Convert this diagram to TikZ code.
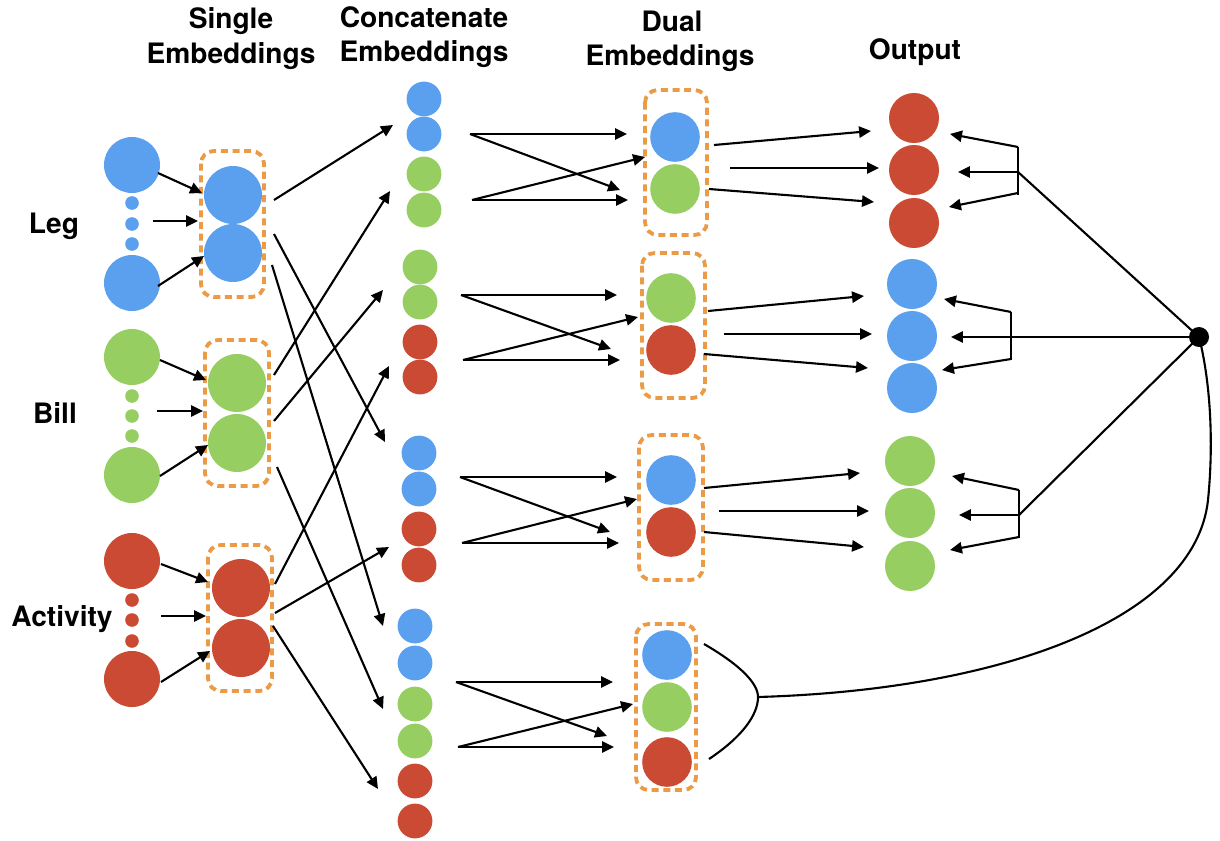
\documentclass[tikz,border=0pt]{standalone}
\usepackage{fontspec}
\setmainfont{TeX Gyre Heros}
\usetikzlibrary{arrows.meta,calc}
\definecolor{cblue}{HTML}{5AA0EE}
\definecolor{cgreen}{HTML}{96CE62}
\definecolor{cred}{HTML}{CB4A33}
\definecolor{corange}{HTML}{EB9A46}
\begin{document}
\begin{tikzpicture}[x=0.025cm,y=-0.025cm,
  ball/.style={circle,inner sep=0pt,draw=none},
  bigin/.style={ball,minimum size=1.4cm},
  dotin/.style={ball,minimum size=0.34cm},
  single/.style={ball,minimum size=1.45cm},
  cat/.style={ball,minimum size=0.87cm},
  dual/.style={ball,minimum size=1.24cm},
  outb/.style={ball,minimum size=1.25cm},
  B/.style={fill=cblue}, G/.style={fill=cgreen}, R/.style={fill=cred},
  grp/.style={draw=corange,line width=2.7pt,dash pattern=on 5pt off 3.3pt,rounded corners=9pt},
  arr/.style={line width=1.5pt,-{Triangle[length=8.5pt,width=8pt]}},
  ln/.style={line width=1.5pt},
  lbl/.style={font=\bfseries\fontsize{20}{24}\selectfont,anchor=base,inner sep=0pt}
]
\useasboundingbox (0,0) rectangle (1220,840);

% titles
\node[lbl] (t1a) at (231,29) {Single};
\node[lbl] (t1b) at (231,64) {Embeddings};
\node[lbl] (t2a) at (424,28) {Concatenate};
\node[lbl] (t2b) at (424,62) {Embeddings};
\node[lbl] (t3a) at (672,32) {Dual};
\node[lbl] (t3b) at (670,66) {Embeddings};
\node[lbl] (t4) at (915,60) {Output};
\node[lbl] (lleg) at (54,233) {Leg};
\node[lbl] (lbill) at (55,423) {Bill};
\node[lbl] (lact) at (62,626) {Activity};

% dashed groups
\draw[grp] (201,151) rectangle (264,297);
\draw[grp] (205,340) rectangle (269,486);
\draw[grp] (208,545) rectangle (272,691);
\draw[grp] (645,90) rectangle (707,235);
\draw[grp] (642,253) rectangle (705,398);
\draw[grp] (639,435) rectangle (703,580);
\draw[grp] (636,624) rectangle (696,790);

% input columns
\node[bigin,B] (legA) at (132,165) {};
\node[dotin,B] (legd1) at (132,203) {};
\node[dotin,B] (legd2) at (132,224) {};
\node[dotin,B] (legd3) at (132,244) {};
\node[bigin,B] (legB) at (132,283) {};
\node[bigin,G] (billA) at (132,357) {};
\node[dotin,G] (billd1) at (132,396) {};
\node[dotin,G] (billd2) at (132,416) {};
\node[dotin,G] (billd3) at (132,436) {};
\node[bigin,G] (billB) at (132,475) {};
\node[bigin,R] (actA) at (132,561) {};
\node[dotin,R] (actd1) at (132,600) {};
\node[dotin,R] (actd2) at (132,620) {};
\node[dotin,R] (actd3) at (132,641) {};
\node[bigin,R] (actB) at (132,679) {};

% single embeddings
\node[single,B] (sl1) at (233,195) {};
\node[single,B] (sl2) at (233,253) {};
\node[single,G] (sb1) at (237,383) {};
\node[single,G] (sb2) at (237,443) {};
\node[single,R] (sa1) at (241,588) {};
\node[single,R] (sa2) at (241,648) {};

% concatenate
\node[cat,B] (c11) at (424,99) {};
\node[cat,B] (c12) at (424,134) {};
\node[cat,G] (c13) at (424,174) {};
\node[cat,G] (c14) at (424,210) {};
\node[cat,G] (c21) at (420,267) {};
\node[cat,G] (c22) at (420,302) {};
\node[cat,R] (c23) at (420,342) {};
\node[cat,R] (c24) at (420,377) {};
\node[cat,B] (c31) at (419,453) {};
\node[cat,B] (c32) at (419,489) {};
\node[cat,R] (c33) at (419,529) {};
\node[cat,R] (c34) at (419,565) {};
\node[cat,B] (c41) at (415,626) {};
\node[cat,B] (c42) at (415,663) {};
\node[cat,G] (c43) at (415,704) {};
\node[cat,G] (c44) at (415,741) {};
\node[cat,R] (c45) at (415,781) {};
\node[cat,R] (c46) at (415,821) {};

% dual
\node[dual,B] (d11) at (675,137) {};
\node[dual,G] (d12) at (675,189) {};
\node[dual,G] (d21) at (671,298) {};
\node[dual,R] (d22) at (671,350) {};
\node[dual,B] (d31) at (671,480) {};
\node[dual,R] (d32) at (671,532) {};
\node[dual,B] (d41) at (667,655) {};
\node[dual,G] (d42) at (667,707) {};
\node[dual,R] (d43) at (667,762) {};

% output
\node[outb,R] (o11) at (914,118) {};
\node[outb,R] (o12) at (914,170) {};
\node[outb,R] (o13) at (914,223) {};
\node[outb,B] (o21) at (912,284) {};
\node[outb,B] (o22) at (912,336) {};
\node[outb,B] (o23) at (912,388) {};
\node[outb,G] (o31) at (910,461) {};
\node[outb,G] (o32) at (910,513) {};
\node[outb,G] (o33) at (910,566) {};

\node[circle,fill=black,inner sep=0pt,minimum size=0.5cm] (hub) at (1199,337) {};

% arrows
\foreach \a/\b/\c/\d [count=\i] in {
  158/173/202/193, 153/221/198/221, 158/286/204/256,
  160/360/206/380, 157/411/203/411, 160/476/208/445,
  161/564/208/582, 161/616/206/616, 161/682/210/651,
  274/200/393/125, 274/234/385/442, 272/265/383/626,
  274/375/390/191, 274/421/383/290, 277/467/383/709,
  275/584/389/366, 275/613/389/547, 273/626/378/789,
  470/134/627/134, 470/134/620/190, 472/200/645/157, 472/200/628/200,
  461/295/617/295, 461/295/611/349, 463/360/638/317, 463/360/620/360,
  460/477/617/477, 460/477/610/532, 462/543/637/499, 462/543/619/543,
  456/682/613/682, 456/682/607/736, 458/747/633/704, 458/747/614/747,
  714/145/871/131, 730/168/879/168, 709/189/874/202,
  708/311/864/296, 724/334/872/334, 704/354/868/368,
  704/488/860/473, 719/511/869/511, 704/532/864/547,
  1018/147/950/134, 1018/172/958/172, 1018/193/949/207,
  1011/312/944/299, 1011/337/951/337, 1011/359/942/370,
  1019/490/952/476, 1019/515/959/515, 1019/537/950/550}
{
  \coordinate (s\i) at (\a,\b);
  \coordinate (e\i) at (\c,\d);
  \draw[arr] (s\i) -- (e\i);
}

% feedback bars
\coordinate (b1t) at (1018,147); \coordinate (b1m) at (1018,172); \coordinate (b1b) at (1018,195);
\coordinate (b2t) at (1011,312); \coordinate (b2m) at (1011,337); \coordinate (b2b) at (1011,360);
\coordinate (b3t) at (1019,490); \coordinate (b3m) at (1019,515); \coordinate (b3b) at (1019,538);
\draw[ln] (b1t) -- (b1b);
\draw[ln] (b2t) -- (b2b);
\draw[ln] (b3t) -- (b3b);
\draw[ln] (b1m) -- (hub.center);
\draw[ln] (b2m) -- (hub.center);
\draw[ln] (b3m) -- (hub.center);

% big curve and bracket
\coordinate (cm) at (1208,500);
\coordinate (tip) at (758,697);
\coordinate (brt) at (704,644);
\coordinate (brb) at (709,759);
\draw[ln] (hub.center) .. controls (1210,380) and (1214,440) .. (cm)
  .. controls (1195,620) and (1000,690) .. (tip);
\draw[ln] (brt) .. controls (742,666) and (758,684) .. (tip)
  .. controls (758,715) and (742,737) .. (brb);
\end{tikzpicture}
\end{document}
